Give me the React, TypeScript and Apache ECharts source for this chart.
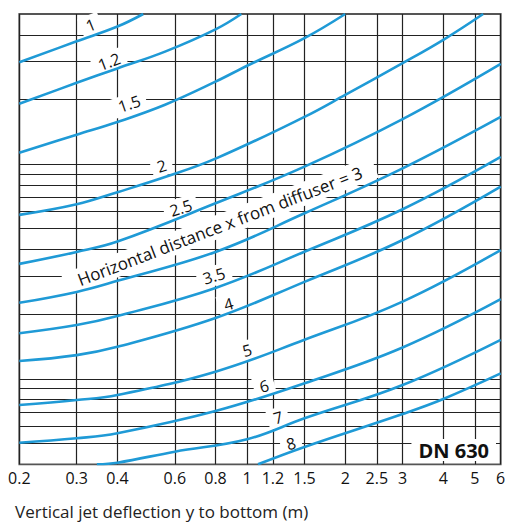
import React, { useEffect, useRef } from "react";
import * as echarts from "echarts";

// x-axis (vertical jet deflection y to bottom, m) — log scale ticks
const xTicks = [0.2, 0.3, 0.4, 0.6, 0.8, 1, 1.2, 1.5, 2, 2.5, 3, 4, 5, 6];
// y-axis (log) horizontal grid values
const yGrid = [0.5, 0.6, 0.7, 0.8, 0.9, 1, 2, 3, 4, 5, 6, 7, 8, 9, 10, 20, 30, 40];

// curves: horizontal distance x from diffuser
const curveNames = ["1", "1.2", "1.5", "2", "2.5", "3", "3.5", "4", "5", "6", "7", "8"];
const curve1 = [[0.2, 29.8], [0.3, 37.3], [0.4, 43.7], [0.48, 50]];
const curve1_2 = [[0.2, 19.1], [0.3, 23.9], [0.4, 27.9], [0.56, 33.4], [0.8, 42.4], [0.96, 50]];
const curve1_5 = [[0.2, 11.3], [0.3, 13.7], [0.4, 15.7], [0.56, 18.9], [0.8, 24.2], [1, 28.7], [1.5, 38.6], [2, 50]];
const curve2 = [[0.2, 5.8], [0.3, 6.5], [0.4, 7.4], [0.56, 8.7], [0.8, 10.6], [1.5, 16.6], [2, 21.0], [3, 29.5], [4, 37.9], [5.3, 50]];
const curve2_5 = [[0.2, 3.43], [0.3, 3.9], [0.4, 4.36], [0.8, 6.57], [1.5, 9.73], [3, 16.2], [6, 29.3]];
const curve3 = [[0.2, 2.26], [0.3, 2.54], [0.4, 2.86], [0.8, 3.9], [1.5, 5.9], [3, 9.56], [6, 16.6]];
const curve3_5 = [[0.2, 1.63], [0.3, 1.78], [0.4, 1.96], [0.8, 2.65], [1.5, 3.91], [3, 6.16], [6, 10.8]];
const curve4 = [[0.2, 1.21], [0.3, 1.29], [0.4, 1.41], [0.8, 1.92], [1.5, 2.83], [3, 4.43], [6, 7.85]];
const curve5 = [[0.2, 0.756], [0.3, 0.797], [0.4, 0.841], [0.8, 1.08], [1.5, 1.52], [3, 2.29], [6, 3.98]];
const curve6 = [[0.2, 0.504], [0.3, 0.529], [0.4, 0.558], [0.8, 0.708], [1.5, 0.954], [3, 1.4], [6, 2.35]];
const curve7 = [[0.346, 0.4], [0.4, 0.407], [0.6, 0.458], [1, 0.523], [1.5, 0.655], [3, 0.936], [6, 1.52]];
const curve8 = [[1.08, 0.4], [1.5, 0.482], [3, 0.686], [4, 0.806], [6, 1.06]];
const curves = [curve1, curve1_2, curve1_5, curve2, curve2_5, curve3, curve3_5, curve4, curve5, curve6, curve7, curve8];

// curve label texts and their anchor (data coords) + tilt in degrees
const labelTexts = ["1", "1.2", "1.5", "2", "2.5", "Horizontal distance x from diffuser = 3", "3.5", "4", "5", "6", "7", "8"];
const labelAnchors = [
  [0.331, 44.5], [0.377, 30.0], [0.435, 19.1], [0.547, 9.8], [0.626, 6.25], [0.825, 5.15],
  [0.792, 3.02], [0.876, 2.23], [1.0, 1.36], [1.127, 0.925], [1.244, 0.66], [1.364, 0.5],
];
const labelTilt = [22, 21, 19, 17, 18, 21, 17, 16, 15, 15, 15, 16];

const xAxisTitle = "Vertical jet deflection y to bottom (m)";
const badge = "DN 630";

const FONT = "'Open Sans', 'Noto Sans', sans-serif";

export default function App() {
  const ref = useRef<HTMLDivElement>(null);
  useEffect(() => {
    const chart = echarts.init(ref.current!, null, { renderer: "svg" });
    const option: any = {
      animation: false,
      backgroundColor: "#fff",
      grid: {
        left: 19.3, right: 21.3, top: 14, bottom: 58.7,
        show: true, borderColor: "#555", borderWidth: 1.8, backgroundColor: "transparent",
      },
      xAxis: {
        type: "log", logBase: 10, min: 0.2, max: 6,
        axisLine: { show: false }, axisTick: { show: false }, axisLabel: { show: false },
        splitLine: { show: false },
      },
      yAxis: {
        type: "log", logBase: 10, min: 0.4, max: 50,
        axisLine: { show: false }, axisTick: { show: false }, axisLabel: { show: false },
        splitLine: { show: false },
      },
      series: [
        {
          type: "line",
          data: [[1, 1]],
          showSymbol: false,
          symbol: "none",
          lineStyle: { opacity: 0 },
          silent: true,
          z: 1,
          markLine: {
            silent: true,
            symbol: ["none", "none"],
            animation: false,
            lineStyle: { color: "#222", width: 1.2, type: "solid" },
            label: { show: false },
            emphasis: { disabled: true },
            data: [
              ...xTicks.map((v) => ({
                xAxis: v,
                label: {
                  show: true, position: "start", formatter: String(v), distance: 6,
                  color: "#111", fontSize: 16, fontFamily: FONT,
                },
              })),
              ...yGrid.map((v) => ({ yAxis: v })),
            ],
          },
        },
        ...curves.map((d, i) => ({
          type: "line",
          name: curveNames[i],
          data: d,
          smooth: 0.4,
          symbol: "none",
          showSymbol: false,
          silent: true,
          z: 20,
          lineStyle: { color: "#1f9ad6", width: 2.6 },
        })),
      ],
    };
    chart.setOption(option);

    const texts: any[] = labelTexts.map((t, i) => {
      const p = chart.convertToPixel({ gridIndex: 0 }, labelAnchors[i]) as number[];
      const long = t.length > 4;
      const pad = long ? [3, 14] : [2, 6];
      return {
        type: "text",
        x: p[0], y: p[1],
        rotation: (labelTilt[i] * Math.PI) / 180,
        z: 10,
        silent: true,
        style: {
          text: t,
          fill: "#111",
          font: `${long ? 17 : 16}px ${FONT}`,
          align: "center", verticalAlign: "middle",
          textAlign: "center", textVerticalAlign: "middle",
          backgroundColor: "#fff", textBackgroundColor: "#fff",
          padding: pad, textPadding: pad,
        },
      };
    });
    texts.push({
      type: "text",
      right: 26, bottom: 62,
      z: 10, silent: true,
      style: {
        text: badge, fill: "#111", font: `bold 20px ${FONT}`,
        backgroundColor: "#fff", textBackgroundColor: "#fff",
        padding: [1, 7], textPadding: [1, 7],
      },
    });
    texts.push({
      type: "text",
      left: 15, top: 503,
      z: 10, silent: true,
      style: { text: xAxisTitle, fill: "#222", font: `17px ${FONT}` },
    });
    chart.setOption({ graphic: texts });

    return () => chart.dispose();
  }, []);
  return (
    <div
      ref={ref}
      style={{ position: "fixed", left: 0, top: 0, width: 522, height: 523 }}
    />
  );
}
